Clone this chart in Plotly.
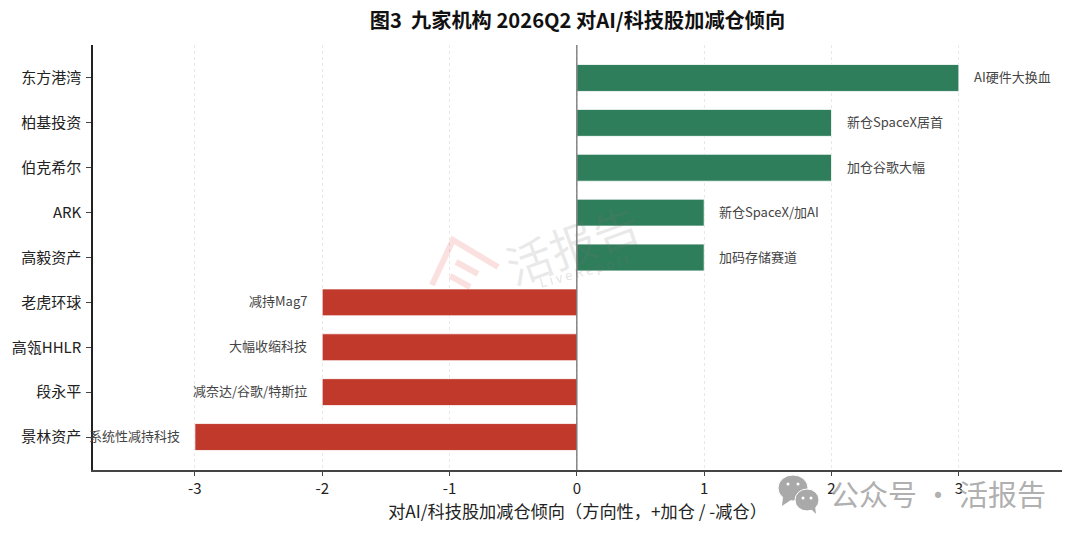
import plotly.graph_objects as go

FONT = "Noto Sans CJK SC"

# data
institutions = ["东方港湾", "柏基投资", "伯克希尔", "ARK", "高毅资产", "老虎环球", "高瓴HHLR", "段永平", "景林资产"]
tilt = [3, 2, 2, 1, 1, -2, -2, -2, -3]
notes = ["AI硬件大换血", "新仓SpaceX居首", "加仓谷歌大幅", "新仓SpaceX/加AI", "加码存储赛道",
         "减持Mag7", "大幅收缩科技", "减奈达/谷歌/特斯拉", "系统性减持科技"]
x_ticks = [-3, -2, -1, 0, 1, 2, 3]

GREEN = "#2E7D5B"
RED = "#C0392B"

# the page has an 8px body margin, so figure is 8px smaller than the window
PLOT_L, PLOT_R, PLOT_T, PLOT_B = 93, 1062, 45, 470
FIG_W, FIG_H = 1072, 530


# page pixels to plot-area fractions, only used for the watermarks
def px(x):
    return (x - PLOT_L) / (PLOT_R - PLOT_L)


def py(y):
    return (PLOT_B - y) / (PLOT_B - PLOT_T)


def page_path(points):
    return "M " + " L ".join(f"{px(x):.4f} {py(y):.4f}" for x, y in points)


fig = go.Figure()

fig.add_trace(go.Bar(
    y=institutions,
    x=tilt,
    orientation="h",
    width=0.6,
    marker=dict(color=[GREEN if v > 0 else RED for v in tilt],
                line=dict(color="#ffffff", width=0.8)),
    hoverinfo="skip",
))

# note next to each bar
for name, v, note in zip(institutions, tilt, notes):
    fig.add_annotation(
        x=v, y=name, text=note, showarrow=False,
        xanchor="left" if v > 0 else "right",
        xshift=13 if v > 0 else -13,
        yshift=1.5,
        font=dict(family=FONT, size=13, color="#444444"),
    )

# zero line
fig.add_shape(type="line", xref="x", yref="paper", x0=0, x1=0, y0=0, y1=1,
              line=dict(color="#666666", width=1.2))

# watermark in the middle
fig.add_annotation(xref="paper", yref="paper", x=px(572), y=py(243), text="活报告", showarrow=False,
                   xanchor="center", yanchor="middle",
                   textangle=-20, font=dict(family=FONT, size=46, color="rgba(120,120,120,0.16)"))
fig.add_annotation(xref="paper", yref="paper", x=px(584), y=py(270), text="L i v e R e p o r t", showarrow=False,
                   xanchor="center", yanchor="middle",
                   textangle=-15, font=dict(family=FONT, size=13, color="rgba(120,120,120,0.22)"))
for pts in [[(432, 285), (453, 240), (498, 267)],
            [(456, 262), (478, 274)],
            [(450, 276), (470, 287)]]:
    fig.add_shape(type="path", xref="paper", yref="paper", layer="above",
                  path=page_path(pts),
                  line=dict(color="rgba(225,70,60,0.16)", width=6))

# wechat badge, bottom right
for cx, cy, rx, ry in [(793, 488, 15, 13), (807, 500, 12, 11)]:
    fig.add_shape(type="circle", xref="paper", yref="paper", layer="above",
                  x0=px(cx - rx), x1=px(cx + rx), y0=py(cy + ry), y1=py(cy - ry),
                  fillcolor="#a9a9a9", line=dict(color="#ffffff", width=1))
for tail in [[(783, 497), (782, 506), (791, 500)], [(811, 509), (816, 514), (815, 506)]]:
    fig.add_shape(type="path", xref="paper", yref="paper", layer="above",
                  path=page_path(tail) + " Z", fillcolor="#a9a9a9", line=dict(width=0))
for cx, cy in [(788, 484), (798, 484), (803, 498), (811, 498)]:
    fig.add_shape(type="circle", xref="paper", yref="paper", layer="above",
                  x0=px(cx - 1.5), x1=px(cx + 1.5), y0=py(cy + 1.5), y1=py(cy - 1.5),
                  fillcolor="#ffffff", line=dict(width=0))
fig.add_annotation(xref="paper", yref="paper", x=px(938), y=py(493),
                   text="公众号 · 活报告", showarrow=False,
                   xanchor="center", yanchor="middle",
                   font=dict(family=FONT, size=29, color="rgba(165,165,165,0.9)"))

fig.update_layout(
    width=FIG_W,
    height=FIG_H,
    margin=dict(l=PLOT_L - 8, r=FIG_W + 8 - PLOT_R, t=PLOT_T - 8, b=FIG_H + 8 - PLOT_B, pad=0),
    paper_bgcolor="#ffffff",
    plot_bgcolor="#ffffff",
    showlegend=False,
    font=dict(family=FONT, color="#222222"),
    title=dict(text="<b>图3  九家机构 2026Q2 对AI/科技股加减仓倾向</b>",
               x=0.5, xref="paper", xanchor="center", y=0.975, yanchor="middle",
               font=dict(family=FONT, size=20.2, color="#111111")),
)

fig.update_xaxes(
    automargin=False,
    range=[-3.8, 3.81],
    tickmode="array",
    tickvals=x_ticks,
    ticktext=[str(t) for t in x_ticks],
    ticks="outside",
    ticklen=4,
    tickcolor="#444444",
    tickfont=dict(family=FONT, size=15, color="#222222"),
    showgrid=True,
    gridcolor="#e8e8e8",
    griddash="dot",
    gridwidth=1,
    zeroline=False,
    showline=True,
    linecolor="#444444",
    linewidth=1.5,
    title=dict(text="对AI/科技股加减仓倾向（方向性，+加仓 / -减仓）",
               font=dict(family=FONT, size=17.2, color="#222222"), standoff=4),
)
fig.update_yaxes(
    automargin=False,
    autorange=False,
    range=[8.735, -0.735],
    ticks="outside",
    ticklen=5,
    tickcolor="#444444",
    ticklabelstandoff=2,
    tickfont=dict(family=FONT, size=15, color="#222222"),
    showgrid=False,
    zeroline=False,
    showline=True,
    linecolor="#222222",
    linewidth=1.5,
)

fig.write_html("out.html")
